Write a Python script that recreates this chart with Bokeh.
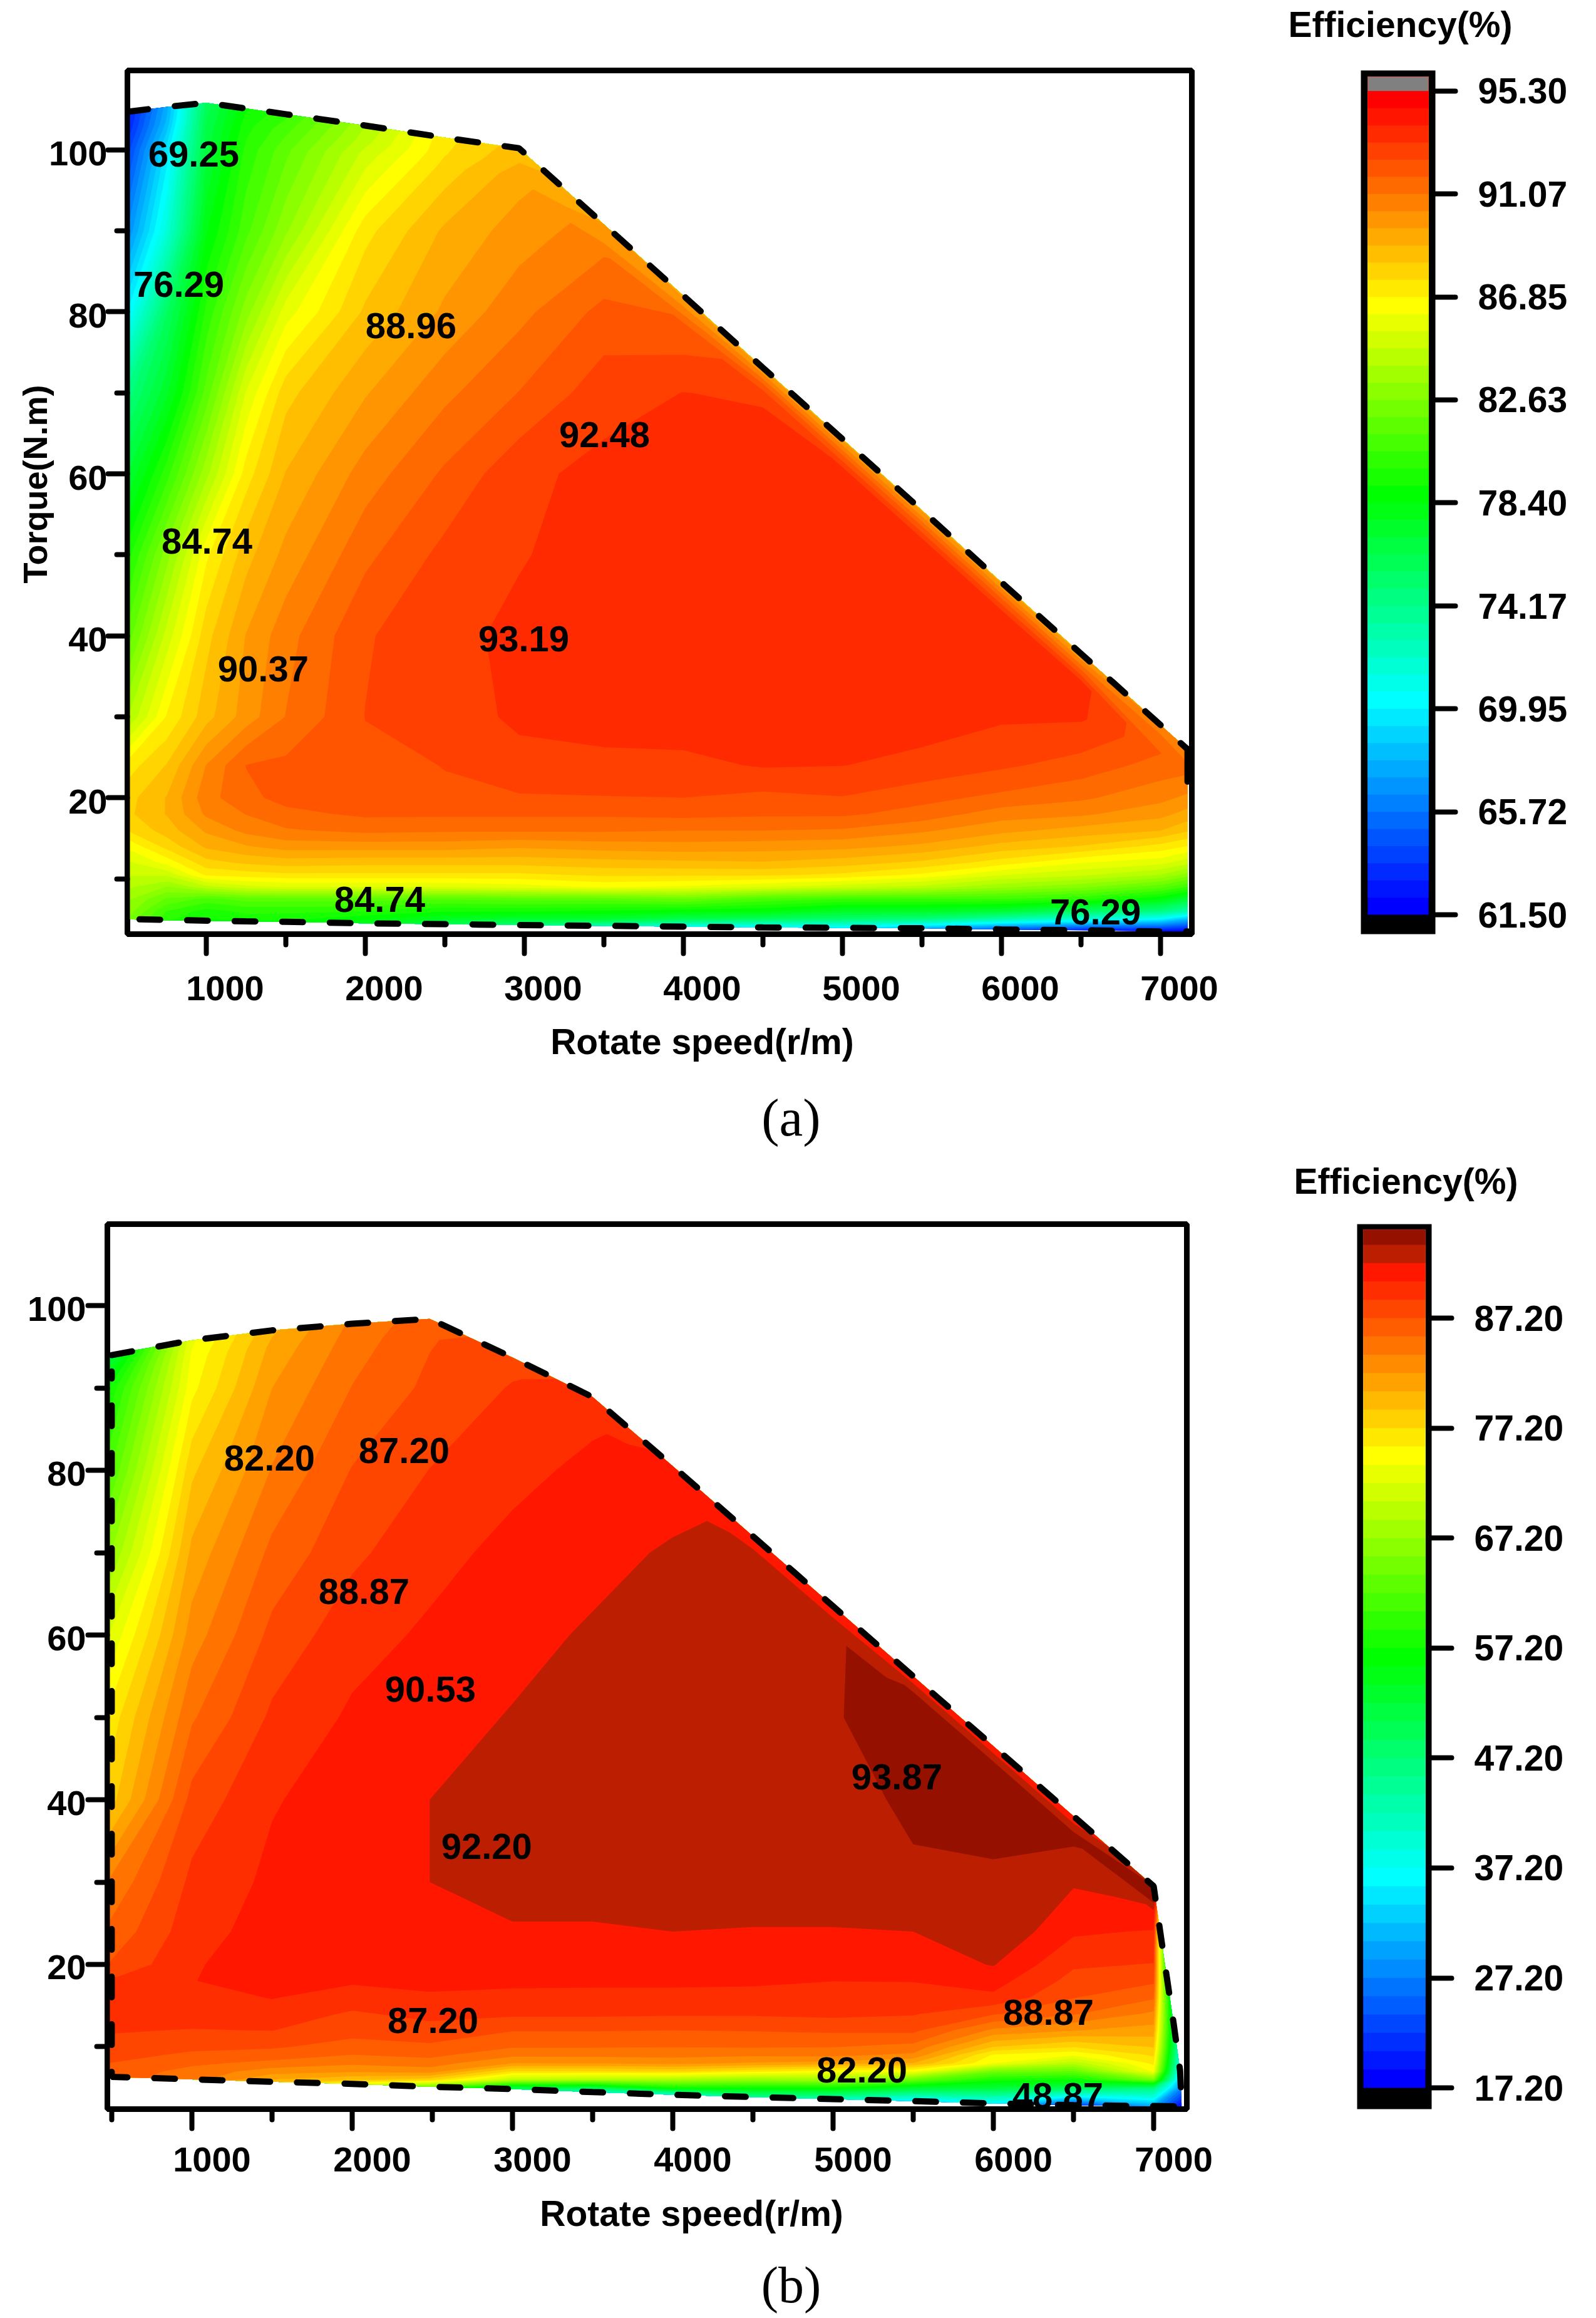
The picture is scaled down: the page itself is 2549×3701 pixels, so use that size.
from math import pi
import numpy as np
from bokeh.embed import file_html
from bokeh.resources import INLINE
from bokeh.plotting import figure
from bokeh.layouts import column, row
from bokeh.models import (Label, Range1d, FixedTicker, LinearAxis, NumeralTickFormatter)
from bokeh.core.properties import value

SANS = "Liberation Sans"
SERIF = "Liberation Serif"

x_major = [1000, 2000, 3000, 4000, 5000, 6000, 7000]
x_minor = [500, 1500, 2500, 3500, 4500, 5500, 6500]
y_major = [20, 40, 60, 80, 100]
y_minor = [10, 30, 50, 70, 90, 110]

# ---- chart (a): measured efficiency, one list per speed -------------------
a_speeds = [505, 750, 1000, 1250, 1500, 2000, 2500, 2966, 3500, 4000, 4500, 5000, 5500, 6000, 6500, 7000, 7170]
a_high = [104.7, 105.3, 105.8, 105.1, 104.4, 103, 101.5, 100.2, 90.8, 82, 73.1, 64.3, 55.5, 46.6, 37.8, 29, 26]
a_low = [5.0, 4.9, 4.8, 4.75, 4.7, 4.5, 4.4, 4.3, 4.2, 4.1, 4.0, 3.95, 3.9, 3.75, 3.65, 3.5, 3.5]
a_torques = [5, 6, 7.5, 9, 10.5, 12, 14, 16, 18, 20, 24, 30, 40, 50, 60, 70, 80, 90, 100]
a_eff = [
    [82.6, 82.6, 83, 83.5, 84.2, 84.8, 85.3, 86.3, 87.6, 88.1, 88, 87.2, 84, 81.5, 79.5, 77, 74.5, 70, 66.5, 64, 63, 62.5],
    [80, 80, 80.5, 81.8, 83.3, 84.9, 86.4, 87.8, 88.6, 89, 89, 88.3, 86.9, 85, 83, 80.2, 77.5, 75.5, 71.5, 69.5, 68, 67.5],
    [78.5, 79, 79.5, 81, 84.5, 87, 88, 89.1, 89.8, 90.5, 90.8, 90.4, 88.7, 88, 86.7, 83.8, 81.5, 80, 78.3, 76.8, 76.2, 75.8],
    [79, 79.5, 80, 81.5, 85.2, 87.2, 88.4, 89.6, 90.6, 91.1, 91.6, 91.8, 90, 89.7, 88.7, 87.2, 85.5, 83, 81, 80, 79.5, 79],
    [79, 79.3, 80, 81.5, 85.5, 87.4, 88.6, 90, 91, 91.6, 92, 91.95, 91.1, 90.8, 89.9, 89, 88, 85.8, 83.2, 81.7, 81, 80.3],
    [78, 78.5, 79.8, 81.5, 85.5, 87.4, 88.5, 90, 91.3, 91.9, 92.3, 92.3, 92.5, 92.4, 91.6, 90.7, 89.6, 88.4, 87.3, 85, 84.5, 84],
    [76, 77.5, 79.2, 81.3, 85.5, 87.4, 88.5, 90, 91.2, 91.9, 92.4, 92.5, 92.9, 93.05, 92.7, 91.9, 90.9, 89.8, 89.1, 87.8, 87.5, 87.3],
    [75, 77, 79.2, 81.5, 85.8, 87.4, 88.5, 89.8, 91.2, 91.9, 92.4, 93, 93.3, 93.3, 93.15, 93, 91.8, 90.85, 90, 89.4, 89, 88.6],
    [73, 77, 79, 81.5, 86.3, 87.7, 88.7, 90, 91.2, 91.9, 92.45, 93, 93.5, 93.5, 93.4, 93.4, 92.9, 92, 91, 90.2, 89.7],
    [71, 76, 78.7, 82, 86, 87.7, 88.8, 90.1, 91.1, 92, 92.48, 93, 93.6, 93.7, 93.6, 93.6, 93.2, 91.9, 90.8, 89.5],
    [70, 75.5, 78.5, 81, 85.5, 87.7, 88.9, 90, 91.1, 91.9, 92.3, 93.25, 93.7, 93.8, 93.8, 93.7, 93.1, 91.8, 89.5],
    [70, 75, 77.5, 80.5, 85, 87.4, 88.6, 89.9, 91, 91.9, 92.45, 93.2, 93.6, 93.7, 93.7, 93.5, 93.2, 91.8, 89.5],
    [68, 74.5, 77.5, 80.5, 84.5, 86.7, 88.1, 89.5, 90.5, 91.5, 92, 93, 93.5, 93.7, 93.4, 93.2, 91.8, 89.5],
    [65, 73, 77, 80.5, 83.5, 85.5, 87.2, 88.7, 89.9, 90.7, 91.6, 92.6, 93.3, 93.6, 93.25, 91.8, 89.5],
    [63, 71.5, 75.5, 80, 82.8, 84.9, 86.2, 88.2, 89.4, 90.5, 91.2, 92.2, 93.3, 93.4, 91.8, 89.5],
    [62, 70, 74.5, 78.5, 81.5, 84, 85.7, 87.3, 89, 89.9, 90.6, 91.5, 91.8, 91.5, 90.5],
    [61.8, 68, 73, 77, 80.5, 83, 85, 86.8, 88.4, 89.4, 90.2, 91, 91.2, 90.5],
]
a_gap = 3.5
a_levels_first, a_levels_step, a_levels_count = 61.5, 33.8 / 48, 48
a_top_grey = [95.3, 95.89]
a_bar_ticks = [95.30, 91.07, 86.85, 82.63, 78.40, 74.17, 69.95, 65.72, 61.50]
a_label_text = ["69.25", "76.29", "88.96", "92.48", "84.74", "90.37", "93.19", "84.74", "76.29"]
a_label_x = [921, 827, 2287, 3504, 1004, 1358, 2996, 2090, 6591]
a_label_y = [99.5, 83.4, 78.3, 64.8, 51.7, 35.9, 39.6, 7.5, 5.9]

# ---- chart (b) ------------------------------------------------------------
b_speeds = [473, 1000, 1500, 2000, 2484, 3000, 3500, 4000, 4500, 5000, 5500, 6000, 6500, 7000]
b_high = [94, 95.8, 97, 97.8, 98.4, 93.7, 88.9, 80.5, 72, 63.5, 55, 46.5, 38, 29.5]
b_low = [6.35, 6.05, 5.75, 5.5, 5.15, 4.87, 4.5, 4.17, 3.9, 3.65, 3.4, 3.12, 2.9, 2.77]
b_edge_speed = [7000, 7020, 7075, 7125, 7165, 7175]
b_edge_torque = [29.5, 26.8, 19.4, 12.8, 7.1, 2.77]
b_torques = [5, 6, 7, 8, 9, 10, 12, 14, 16, 18, 20, 24, 30, 40, 50, 60, 70, 80, 90]
b_eff = [
    [86.3, 86.3, 86.3, 86.7, 87.2, 88, 88.4, 89, 89.4, 89.2, 88.9, 87.2, 85.8, 83.9, 77.8, 75.8, 72, 66.5, 61.5, 57, 54, 50],
    [84.7, 84.7, 84.7, 84.9, 85.9, 86.8, 87.7, 88.8, 89.5, 90, 90.5, 90.4, 89.9, 89.3, 87.8, 85.3, 83, 81, 78.5, 75, 74.2, 73.5],
    [79.5, 79.5, 80.5, 83, 85, 86.5, 87.4, 88.9, 90, 90.6, 91, 91.2, 91.2, 90.9, 90.4, 89.2, 87.7, 86, 84, 82.2, 81, 80.2],
    [74, 74, 79.2, 82.4, 84.2, 85.5, 86.6, 87.8, 88.6, 90, 90.7, 91.2, 91.5, 91.5, 91.3, 90.8, 89.9, 88.5, 87.3, 85.6, 84.6, 84.2],
    [65, 65, 78, 83, 84.7, 86, 86.9, 88.2, 89.4, 90.3, 91, 91.5, 91.8, 92.2, 92.2, 91.6, 90.8, 90, 88.9, 87.6, 87, 86.5],
    [50, 51, 70, 77, 82.2, 84.3, 85.7, 87.3, 89.2, 90.1, 90.9, 91.4, 92.15, 92.4, 92.5, 92.3, 91.7, 91, 90.1, 89, 88.7, 88],
    [42, 50, 69, 77, 82.3, 84.3, 85.7, 87.3, 89.2, 90, 90.9, 91.5, 92.15, 92.4, 92.6, 92.7, 92.4, 91.7, 90.9, 90.3, 90, 89.6],
    [40, 57.5, 68.5, 77.5, 82.7, 84.4, 85.6, 87.2, 89.1, 90, 90.9, 91.5, 92.2, 92.5, 92.6, 92.7, 92.8, 92.4, 91.6, 91.2, 90.8],
    [45, 57, 67, 76, 82, 84.2, 85.7, 87.3, 89.1, 90, 90.8, 91.4, 92.15, 92.7, 93, 93.1, 93.2, 93, 92.6, 90.8],
    [42, 57, 68, 74.5, 81.5, 84.3, 85.6, 87.5, 89.3, 89.9, 90.55, 91.3, 92.15, 92.7, 93, 93.8, 93.8, 93.2, 92.8, 90.8],
    [35, 53, 64, 74, 80.5, 83.5, 85, 87.6, 89, 89.7, 90.6, 91.3, 92.2, 93.5, 94.3, 94.3, 94.2, 94, 90.8],
    [36, 52, 58, 64.5, 73.9, 75.3, 78.9, 83.5, 87.4, 90.2, 91.2, 92.3, 93.7, 93.7, 94.3, 94.3, 94.1, 90.8],
    [22, 50, 57, 63.5, 69.5, 74.2, 77.3, 82.3, 85.7, 87.3, 88.3, 89.1, 90.8, 92.4, 94.1, 94, 90.8],
    [30, 47, 65, 74, 76, 77.5, 79, 81.5, 83.5, 85.8, 87.5, 88.8, 90.4, 92, 93.9, 94],
    [18, 28, 32, 36, 40, 43, 46, 50, 53, 56, 59, 62, 72, 85, 90, 94],
]
b_gap = 3.0
b_dash_left = 500
b_levels_first, b_levels_step, b_levels_count = 17.2, 5 / 3, 47
b_bar_ticks = [87.20, 77.20, 67.20, 57.20, 47.20, 37.20, 27.20, 17.20]
b_bar_top = 95.24
b_label_text = ["82.20", "87.20", "88.87", "90.53", "92.20", "93.87", "87.20", "88.87", "82.20", "48.87"]
b_label_x = [1484, 2324, 2074, 2488, 2839, 5398, 2504, 6344, 5180, 6402]
b_label_y = [81.5, 82.4, 65.3, 53.4, 34.3, 42.8, 13.2, 14.2, 7.2, 4.1]

# colour ramps: band index of the pure blue, cyan, green, yellow, red
a_ramp_index = [0, 12, 24, 35, 47]
b_ramp_index = [0, 11, 23, 34, 45]
ramp_rgb = [(0, 0, 255), (0, 255, 255), (0, 255, 0), (255, 255, 0), (255, 0, 0)]
b_dark = {45: "#bb1e00", 46: "#961000"}


def ramp(count, stops, overrides=None):
    out = []
    for i in range(count):
        if overrides and i in overrides:
            out.append(overrides[i])
            continue
        rgb = [int(round(np.interp(i, stops, [c[k] for c in ramp_rgb]))) for k in range(3)]
        out.append("#%02x%02x%02x" % tuple(rgb))
    return out


def mesh(speeds, low, high, torques, table, gap):
    n_body = len(torques) + 1
    X, Y, Z = [], [], []
    for s, lo, hi, col in zip(speeds, low, high, table):
        clip = hi - gap
        ys = [lo] + [max(lo, min(t, clip)) for t in torques] + [hi - 2 if gap > 2 else hi, hi]
        body = list(col[:-2])
        body += [body[-1]] * (n_body - len(body))
        Z.append(body + list(col[-2:]))
        Y.append(ys)
        X.append([s] * len(ys))
    return np.array(X, float).T, np.array(Y, float).T, np.array(Z, float).T


def label_axis(ticks, standoff, **kw):
    # axis that carries only the tick labels, on a range shifted a few pixels
    ax = LinearAxis(ticker=FixedTicker(ticks=ticks), **kw)
    ax.axis_line_color = None
    ax.major_tick_line_color = None
    ax.minor_tick_line_color = None
    ax.major_tick_in = 0
    ax.major_tick_out = 0
    ax.minor_tick_in = 0
    ax.minor_tick_out = 0
    ax.major_label_standoff = standoff
    ax.major_label_text_font = SANS
    ax.major_label_text_font_style = "bold"
    ax.major_label_text_font_size = "56px"
    ax.major_label_text_color = "black"
    ax.major_label_orientation = "horizontal"
    return ax


def chart(width, height, borders, xr, yr, px_x, px_y, shift_x, shift_y, stand_x, stand_y):
    left, right, top, bottom = borders
    p = figure(width=width, height=height, x_range=Range1d(*xr), y_range=Range1d(*yr),
               toolbar_location=None, tools="", output_backend="svg",
               min_border_left=left, min_border_right=right,
               min_border_top=top, min_border_bottom=bottom)
    p.grid.visible = False
    p.background_fill_color = "white"
    p.outline_line_color = "black"
    p.outline_line_width = 9
    for ax, maj, mnr in ((p.xaxis[0], x_major, x_minor), (p.yaxis[0], y_major, y_minor)):
        ax.ticker = FixedTicker(ticks=maj, minor_ticks=mnr)
        ax.major_label_overrides = {t: "" for t in maj}
        ax.major_label_standoff = 0
        ax.axis_line_color = "black"
        ax.axis_line_width = 8
        ax.major_tick_line_color = "black"
        ax.major_tick_line_width = 8
        ax.major_tick_line_cap = "round"
        ax.major_tick_in = 0
        ax.major_tick_out = 31
        ax.minor_tick_line_color = "black"
        ax.minor_tick_line_width = 8
        ax.minor_tick_line_cap = "round"
        ax.minor_tick_in = 0
        ax.minor_tick_out = 17
    p.extra_x_ranges = {"shift": Range1d(xr[0] - shift_x * px_x, xr[1] - shift_x * px_x)}
    p.extra_y_ranges = {"shift": Range1d(yr[0] + shift_y * px_y, yr[1] + shift_y * px_y)}
    p.add_layout(label_axis(x_major, stand_x, x_range_name="shift"), "below")
    p.add_layout(label_axis(y_major, stand_y, y_range_name="shift"), "left")
    return p


def fill(p, X, Y, Z, levels, colours):
    # painted from the lowest level upward so neighbouring bands leave no seams
    for lev, c in zip(levels, colours):
        p.contour(x=X, y=Y, z=Z, levels=[lev, 1000.0], fill_color=[c], line_color=None)


def put(p, x, y, text, side="below", size=55, font=SANS, style="bold", angle=0, xo=0, yo=0):
    # an annotation kept in a side panel is not clipped to the frame
    p.add_layout(Label(x=x, y=y, text=text, text_font=font, text_font_style=style,
                       text_font_size=f"{size}px", text_align="center", text_baseline="middle",
                       text_color="black", angle=angle, angle_units="rad",
                       x_offset=xo, y_offset=yo), side)


def colourbar(width, height, borders, yr, ticks, levels, colours, top, inner, title, title_xy):
    left, right, t, b = borders
    p = figure(width=width, height=height, x_range=Range1d(0, 1), y_range=Range1d(*yr),
               toolbar_location=None, tools="", output_backend="svg",
               min_border_left=left, min_border_right=right,
               min_border_top=t, min_border_bottom=b,
               x_axis_location=None, y_axis_location=None)
    p.grid.visible = False
    p.background_fill_color = "black"
    p.outline_line_color = None
    for lev, c in zip(levels, colours):
        p.quad(left=inner[0], right=inner[1], bottom=lev, top=top, fill_color=c, line_color=None)
    ax = LinearAxis(ticker=FixedTicker(ticks=ticks), formatter=NumeralTickFormatter(format="0.00"))
    ax.axis_line_color = None
    ax.major_tick_in = 0
    ax.major_tick_out = 32
    ax.major_tick_line_width = 8
    ax.major_tick_line_color = "black"
    ax.major_tick_line_cap = "round"
    ax.minor_tick_line_color = None
    ax.major_label_standoff = 36
    ax.major_label_text_font = SANS
    ax.major_label_text_font_style = "bold"
    ax.major_label_text_font_size = "57px"
    ax.major_label_text_color = "black"
    ax.major_label_orientation = "horizontal"
    p.add_layout(ax, "right")
    put(p, title_xy[0], title_xy[1], title, side="above", size=57)
    return p


# ---------------------- (a) ------------------------------------------------
ax0, ax1 = 504.0, 7197.0
ay0, ay1 = 3.17, 109.8
pa = chart(2000, 1840, (203, 97, 112, 349), (ax0, ax1), (ay0, ay1), 1 / 0.254, 1 / 12.93, 30, 6, 36, 1)
Xa, Ya, Za = mesh(a_speeds, a_low, a_high, a_torques, a_eff, a_gap)
a_levels = [a_levels_first + i * a_levels_step for i in range(a_levels_count)]
a_colours = ramp(a_levels_count, a_ramp_index)
fill(pa, Xa, Ya, Za, a_levels, a_colours)
pa.line(a_speeds, a_high, line_color="black", line_width=10, line_dash="33 43", line_cap="round")
pa.line(a_speeds[-1:] * 2, [a_high[-1], 22], line_color="black", line_width=10, line_cap="round")
pa.line([580] + a_speeds[3:], [5.0] + a_low[3:], line_color="black", line_width=10, line_dash="33 43", line_cap="round")
pa.text(a_label_x, a_label_y, text=a_label_text, text_font=value(SANS), text_font_style="bold",
        text_font_size="58px", text_align="center", text_baseline="middle", text_color="black")
put(pa, ax0 + (1121 - 203) / 0.254, ay0, "Rotate speed(r/m)", size=57, yo=-(1662 - 1491))
put(pa, ax0, (ay0 + ay1) / 2 + (802 - 773) / 12.93, "Torque(N.m)", side="left", size=54, angle=pi / 2, xo=-(203 - 55))
put(pa, ax0 + (1263 - 203) / 0.254, ay0, "(a)", size=85, font=SERIF, style="normal", yo=-(1783 - 1491))

va = lambda py: 95.3 - (py - 143) / 39.08
bar_a = colourbar(549, 1840, (173, 257, 110, 345), (va(1495), va(110)), a_bar_ticks,
                  a_levels + [a_top_grey[0]], a_colours + ["#808080"], a_top_grey[1],
                  (0.0924, 0.9076), "Efficiency(%)", ((2236 - 2173) / 119, va(36)))

# ---------------------- (b) ------------------------------------------------
bx0, bx1 = 473.0, 7207.0
by0, by1 = 2.43, 109.9
pb = chart(2000, 1861, (171, 105, 114, 334), (bx0, bx1), (by0, by1), 1 / 0.256, 1 / 13.15, 32, 5, 30, 3)
last_high = b_high[-1]
Xb, Yb, Zb = mesh(b_speeds + [b_speeds[-1]], b_low + [b_low[-1]], b_high + [last_high],
                  b_torques, b_eff, b_gap)
# right-hand fringe: the last column follows the sloping edge of the map
Xb[:, -1] = np.interp(Yb[:, -1], b_edge_torque[::-1], b_edge_speed[::-1])
b_levels = [b_levels_first + i * b_levels_step for i in range(b_levels_count)]
b_colours = ramp(b_levels_count, b_ramp_index, b_dark)
fill(pb, Xb, Yb, Zb, b_levels, b_colours)
path_x = [b_dash_left] + b_speeds[1:] + b_edge_speed[1:] + b_speeds[::-1][1:-1] + [b_dash_left, b_dash_left]
path_y = [b_high[0]] + b_high[1:] + b_edge_torque[1:] + b_low[::-1][1:-1] + [b_low[0], b_high[0] - 2]
pb.line(path_x, path_y, line_color="black", line_width=10, line_dash="33 43", line_cap="round")
pb.text(b_label_x, b_label_y, text=b_label_text, text_font=value(SANS), text_font_style="bold",
        text_font_size="58px", text_align="center", text_baseline="middle", text_color="black")
put(pb, bx0 + (1104 - 171) / 0.256, by0, "Rotate speed(r/m)", size=57, yo=-(3533 - 3367))
put(pb, bx0 + (1263 - 171) / 0.256, by0, "(b)", size=82, font=SERIF, style="normal", yo=-(3648 - 3367))

vb = lambda py: 87.2 - (py - 2101) / 17.67
bar_b = colourbar(549, 1861, (167, 263, 110, 329), (vb(3372), vb(1950)), b_bar_ticks,
                  b_levels, b_colours, b_bar_top,
                  (0.084, 0.916), "Efficiency(%)", ((2245 - 2167) / 119, vb(1881)))

page = column(row(pa, bar_a, spacing=0), row(pb, bar_b, spacing=0), spacing=0)
open("out.html", "w").write(file_html(page, INLINE))
